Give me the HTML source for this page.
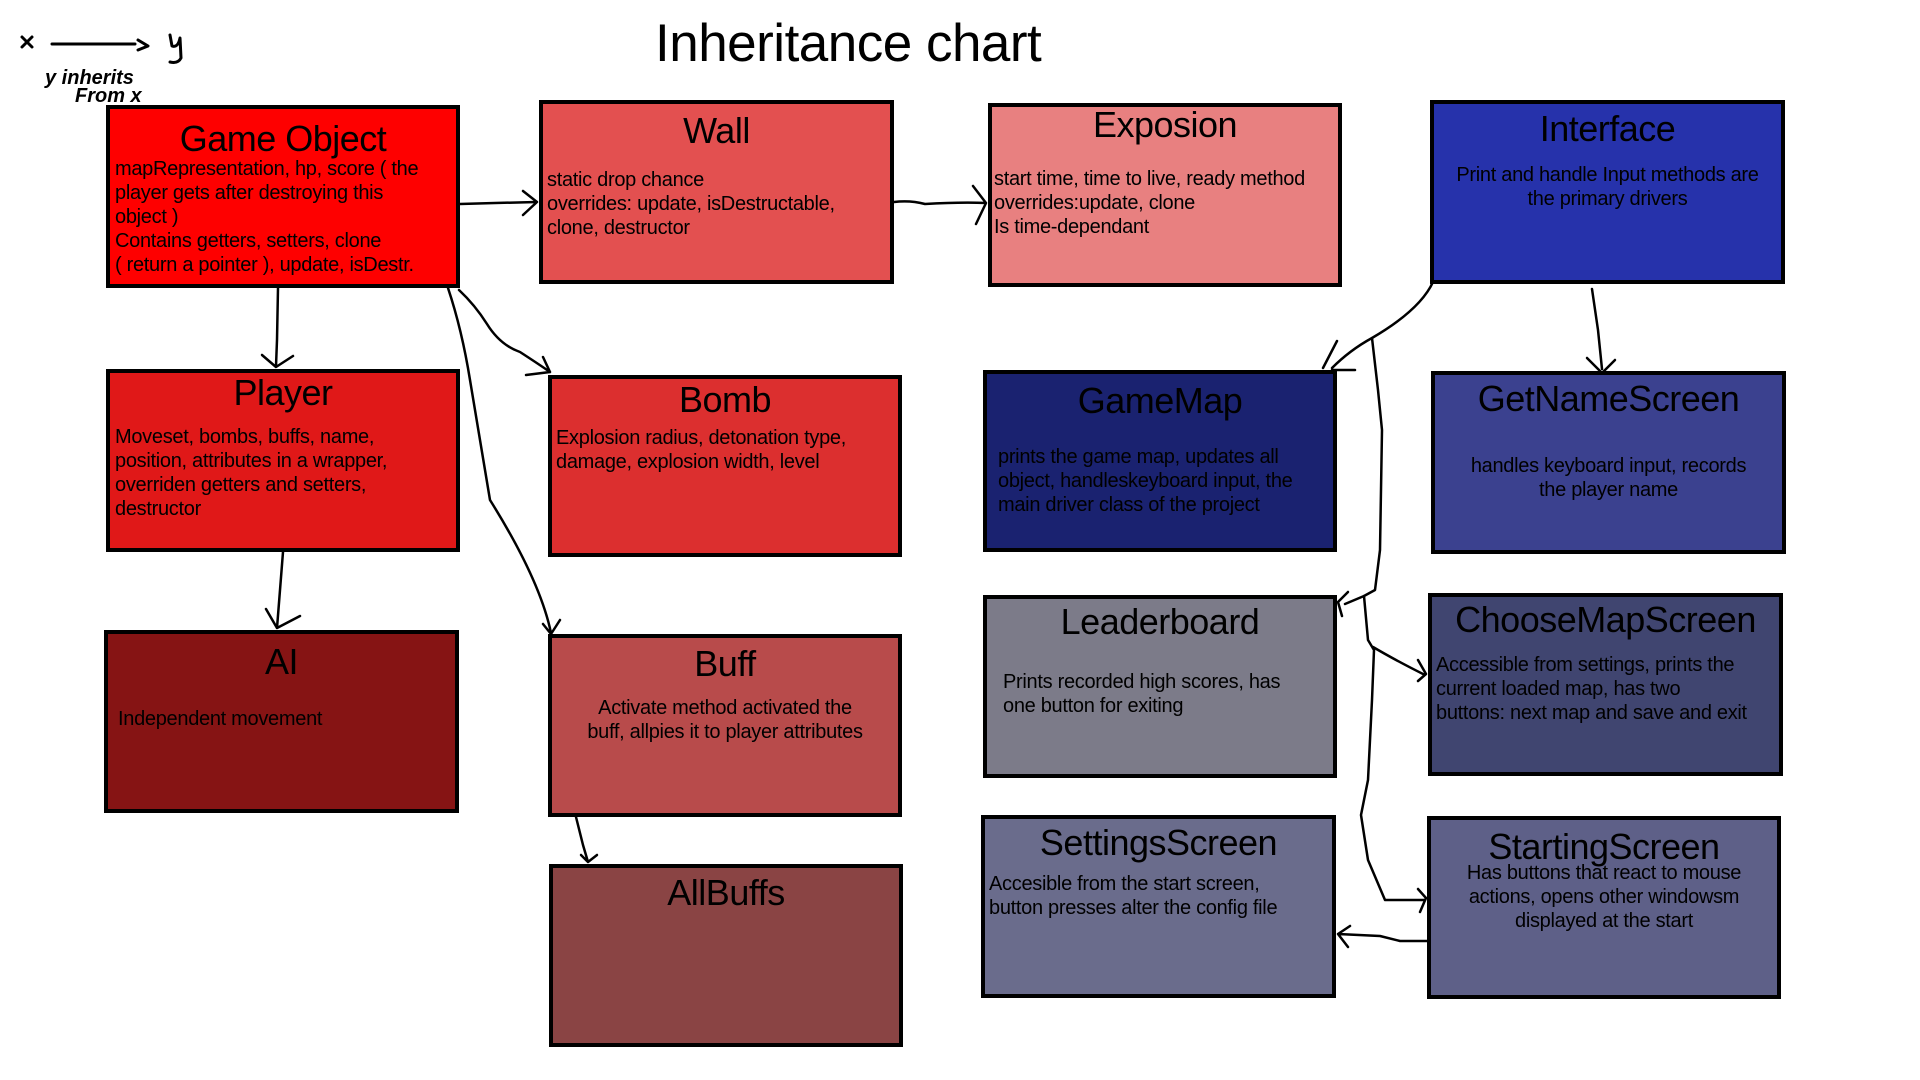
<!DOCTYPE html>
<html><head><meta charset="utf-8"><style>
body{margin:0;width:1920px;height:1080px;background:#fff;position:relative;overflow:hidden;font-family:"Liberation Sans",sans-serif;color:#000}
.b{position:absolute;box-sizing:border-box;border:4px solid #000}
.t{position:absolute;left:0;right:0;text-align:center;font-size:36px;line-height:38px;letter-spacing:-0.5px}
.x{position:absolute;font-size:20px;line-height:24px;white-space:nowrap;letter-spacing:-0.3px}
.c{left:0;right:0;text-align:center}
svg{position:absolute;left:0;top:0}
</style></head><body>
<div style="position:absolute;left:655px;top:14px;font-size:53px;line-height:60px;letter-spacing:-0.5px">Inheritance chart</div>

<div class="b" style="left:106px;top:105px;width:354px;height:183px;background:#fe0000">
<div class="t" style="top:11px">Game Object</div>
<div class="x" style="left:5px;top:48px">mapRepresentation, hp, score ( the<br>player gets after destroying this<br>object )<br>Contains getters, setters, clone<br>( return a pointer ), update, isDestr.</div></div>

<div class="b" style="left:539px;top:100px;width:355px;height:184px;background:#e35050">
<div class="t" style="top:8px">Wall</div>
<div class="x" style="left:4px;top:64px">static drop chance<br>overrides: update, isDestructable,<br>clone, destructor</div></div>

<div class="b" style="left:988px;top:103px;width:354px;height:184px;background:#e88080">
<div class="t" style="top:-1px">Exposion</div>
<div class="x" style="left:2px;top:60px">start time, time to live, ready method<br>overrides:update, clone<br>Is time-dependant</div></div>

<div class="b" style="left:1430px;top:100px;width:355px;height:184px;background:#2632ab">
<div class="t" style="top:6px">Interface</div>
<div class="x c" style="top:59px">Print and handle Input methods are<br>the primary drivers</div></div>

<div class="b" style="left:106px;top:369px;width:354px;height:183px;background:#e01818">
<div class="t" style="top:1px">Player</div>
<div class="x" style="left:5px;top:52px">Moveset, bombs, buffs, name,<br>position, attributes in a wrapper,<br>overriden getters and setters,<br>destructor</div></div>

<div class="b" style="left:548px;top:375px;width:354px;height:182px;background:#dc2f2f">
<div class="t" style="top:2px">Bomb</div>
<div class="x" style="left:4px;top:47px">Explosion radius, detonation type,<br>damage, explosion width, level</div></div>

<div class="b" style="left:983px;top:370px;width:354px;height:182px;background:#1a2270">
<div class="t" style="top:8px">GameMap</div>
<div class="x" style="left:11px;top:71px">prints the game map, updates all<br>object, handleskeyboard input, the<br>main driver class of the project</div></div>

<div class="b" style="left:1431px;top:371px;width:355px;height:183px;background:#3b418f">
<div class="t" style="top:5px">GetNameScreen</div>
<div class="x c" style="top:79px">handles keyboard input, records<br>the player name</div></div>

<div class="b" style="left:104px;top:630px;width:355px;height:183px;background:#861414">
<div class="t" style="top:9px">AI</div>
<div class="x" style="left:10px;top:73px">Independent movement</div></div>

<div class="b" style="left:548px;top:634px;width:354px;height:183px;background:#b84b4b">
<div class="t" style="top:7px">Buff</div>
<div class="x c" style="top:58px">Activate method activated the<br>buff, allpies it to player attributes</div></div>

<div class="b" style="left:549px;top:864px;width:354px;height:183px;background:#8a4444">
<div class="t" style="top:6px">AllBuffs</div></div>

<div class="b" style="left:983px;top:595px;width:354px;height:183px;background:#7c7b89">
<div class="t" style="top:4px">Leaderboard</div>
<div class="x" style="left:16px;top:71px">Prints recorded high scores, has<br>one button for exiting</div></div>

<div class="b" style="left:1428px;top:593px;width:355px;height:183px;background:#404570">
<div class="t" style="top:4px">ChooseMapScreen</div>
<div class="x" style="left:4px;top:56px">Accessible from settings, prints the<br>current loaded map, has two<br>buttons: next map and save and exit</div></div>

<div class="b" style="left:981px;top:815px;width:355px;height:183px;background:#6a6c8c">
<div class="t" style="top:5px">SettingsScreen</div>
<div class="x" style="left:4px;top:53px">Accesible from the start screen,<br>button presses alter the config file</div></div>

<div class="b" style="left:1427px;top:816px;width:354px;height:183px;background:#5e6088">
<div class="t" style="top:8px">StartingScreen</div>
<div class="x c" style="top:41px">Has buttons that react to mouse<br>actions, opens other windowsm<br>displayed at the start</div></div>

<svg width="1920" height="1080" fill="none" stroke="#000" stroke-width="2.5" stroke-linecap="round" stroke-linejoin="round">
<g stroke-width="3">
<path d="M22 37 L32 47 M32 37 L22 47"/>
<path d="M52 44 L135 44 M138 40 L148 46 L138 50"/>
<path d="M170 35 L172 46 Q178 48 180 38 L181 58 Q178 64 170 62"/>
</g>
<text x="45" y="84" font-size="20" font-style="italic" font-weight="bold" fill="#000" stroke="none" font-family="Liberation Sans,sans-serif">y inherits</text>
<text x="75" y="102" font-size="20" font-style="italic" font-weight="bold" fill="#000" stroke="none" font-family="Liberation Sans,sans-serif">From x</text>
<path d="M460 204 L495 203 L537 202 M523 191 L537 202 L523 215"/>
<path d="M894 202 Q910 200 925 204 Q960 202 986 203 M973 186 L986 203 L976 224"/>
<path d="M278 288 L277 340 L276 366 M262 355 L276 367 L293 356"/>
<path d="M283 552 L280 590 L277 628 M266 609 L277 628 L300 616"/>
<path d="M459 290 Q475 305 487 324 Q500 345 520 352 Q540 365 550 372 M543 357 L550 372 L526 375"/>
<path d="M448 288 Q462 330 470 380 Q480 440 490 500 Q540 580 551 633 M543 624 L551 634 L560 620"/>
<path d="M576 817 L583 845 L588 862 M581 855 L588 862 L597 855"/>
<path d="M1592 289 L1598 330 L1602 369 M1587 358 L1602 373 L1615 360"/>
<path d="M1433 282 Q1420 310 1372 338 Q1350 350 1332 368 M1323 368 L1337 341 M1332 370 L1355 370"/>
<path d="M1372 338 L1378 390 L1382 430 L1380 550 L1375 590 L1364 596 L1368 640 L1374 650 L1372 700 L1368 780 L1361 815 L1368 860 L1385 900 L1424 900"/>
<path d="M1364 596 L1345 604 M1348 592 L1338 602 L1342 616"/>
<path d="M1373 647 Q1395 660 1425 675 M1418 660 L1426 674 L1418 681"/>
<path d="M1418 889 L1426 898 L1420 912"/>
<path d="M1427 941 L1400 941 L1380 936 L1338 934 M1350 926 L1338 934 L1348 947"/>
</svg>
</body></html>
